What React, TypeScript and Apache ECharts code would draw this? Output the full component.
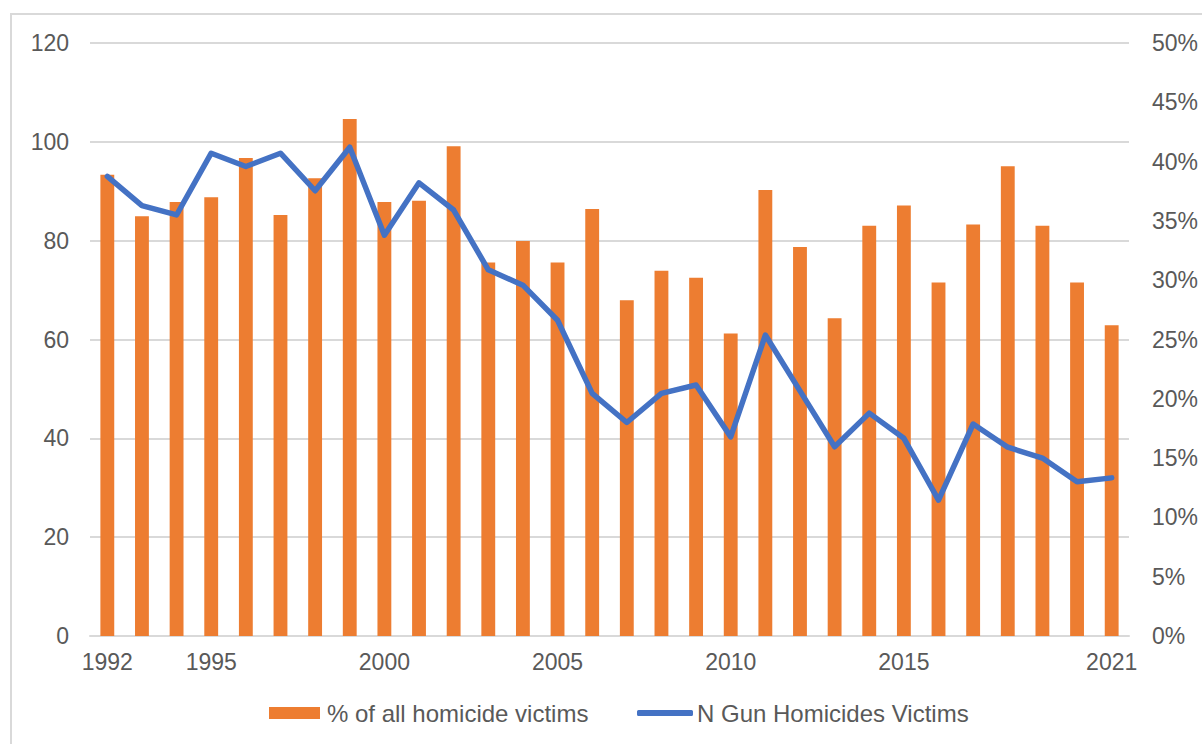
import React, { useEffect, useRef } from "react";
import * as echarts from "echarts";

const years = [
  "1992", "1993", "1994", "1995", "1996", "1997", "1998", "1999", "2000", "2001",
  "2002", "2003", "2004", "2005", "2006", "2007", "2008", "2009", "2010", "2011",
  "2012", "2013", "2014", "2015", "2016", "2017", "2018", "2019", "2020", "2021",
];
const shownYears = ["1992", "1995", "2000", "2005", "2010", "2015", "2021"];

// % of all homicide victims (right axis, %)
const pctHomicide = [
  38.9, 35.4, 36.6, 37.0, 40.3, 35.5, 38.6, 43.6, 36.6, 36.7,
  41.3, 31.5, 33.3, 31.5, 36.0, 28.3, 30.8, 30.2, 25.5, 37.6,
  32.8, 26.8, 34.6, 36.3, 29.8, 34.7, 39.6, 34.6, 29.8, 26.2,
];
// N Gun Homicides Victims (left axis)
const nGunHomicides = [
  93.0, 87.1, 85.2, 97.7, 95.0, 97.7, 90.1, 98.9, 81.1, 91.7,
  86.2, 74.1, 71.0, 63.9, 49.1, 43.2, 49.1, 50.8, 40.3, 60.9,
  49.6, 38.3, 45.1, 40.0, 27.5, 42.9, 38.2, 36.0, 31.2, 32.0,
];

const barName = "% of all homicide victims";
const lineName = "N Gun Homicides Victims";

const FONT = "'Liberation Sans', Arial, sans-serif";
const TEXT = "#595959";
const GRID = "#d9d9d9";

export default function App() {
  const ref = useRef<HTMLDivElement>(null);
  useEffect(() => {
    if (!ref.current) return;
    const chart = echarts.init(ref.current, undefined, { renderer: "svg" });
    chart.setOption({
      animation: false,
      backgroundColor: "#ffffff",
      textStyle: { fontFamily: FONT },
      grid: { left: 90, right: 73, top: 43, bottom: 108, containLabel: false },
      graphic: [
        {
          type: "rect",
          shape: { x: 11, y: 14, width: 1300, height: 800 },
          style: { fill: "none", stroke: GRID, lineWidth: 2 },
          silent: true,
          z: -1,
        },
      ],
      legend: [
        {
          data: [{ name: barName, icon: "rect" }],
          left: 269,
          top: 701,
          padding: 0,
          itemWidth: 51,
          itemHeight: 12,
          textStyle: { color: TEXT, fontSize: 24, fontFamily: FONT, padding: [0, 0, 0, 2] },
        },
        {
          data: [{ name: lineName, icon: "roundRect" }],
          left: 637,
          top: 701,
          padding: 0,
          itemWidth: 56,
          itemHeight: 6,
          textStyle: { color: TEXT, fontSize: 24, fontFamily: FONT, padding: [0, 0, 0, -1] },
        },
      ],
      xAxis: {
        type: "category",
        data: years,
        boundaryGap: true,
        axisLine: { show: true, lineStyle: { color: GRID, width: 2 } },
        axisTick: { show: false },
        axisLabel: {
          interval: 0,
          formatter: (v: string) => (shownYears.includes(v) ? v : ""),
          color: TEXT,
          fontSize: 23,
          fontFamily: FONT,
          margin: 14,
        },
      },
      yAxis: [
        {
          type: "value",
          min: 0,
          max: 120,
          interval: 20,
          axisLine: { show: false },
          axisTick: { show: false },
          splitLine: { show: true, lineStyle: { color: GRID, width: 2 } },
          axisLabel: { color: TEXT, fontSize: 23, fontFamily: FONT, margin: 21 },
        },
        {
          type: "value",
          min: 0,
          max: 50,
          interval: 5,
          position: "right",
          axisLine: { show: false },
          axisTick: { show: false },
          splitLine: { show: false },
          axisLabel: {
            color: TEXT,
            fontSize: 23,
            fontFamily: FONT,
            margin: 23,
            formatter: "{value}%",
          },
        },
      ],
      series: [
        {
          name: barName,
          type: "bar",
          yAxisIndex: 1,
          data: pctHomicide,
          barWidth: "40%",
          itemStyle: { color: "#ED7D31" },
        },
        {
          name: lineName,
          type: "line",
          yAxisIndex: 0,
          data: nGunHomicides,
          symbol: "none",
          lineStyle: { color: "#4472C4", width: 5.5, join: "round", cap: "round" },
          itemStyle: { color: "#4472C4" },
        },
      ],
    });
    return () => chart.dispose();
  }, []);
  return (
    <div
      ref={ref}
      style={{ position: "absolute", left: 0, top: 0, width: 1202, height: 744, background: "#fff" }}
    />
  );
}
